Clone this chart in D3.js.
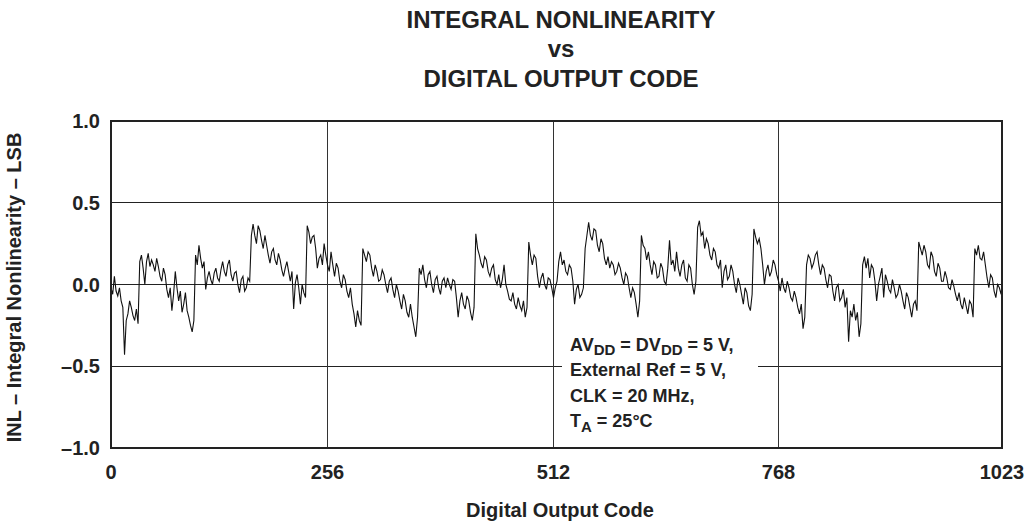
<!DOCTYPE html>
<html>
<head>
<meta charset="utf-8">
<script src="https://cdn.jsdelivr.net/npm/d3@7"></script>
<style>
  body { margin: 0; background: #fff; }
  text { font-family: "Liberation Sans", Arial, sans-serif; font-weight: bold; fill: #222; }
</style>
</head>
<body>
<script>
// output codes sampled every 2 codes, plus the last code
var codes = d3.range(0, 1024, 2).concat([1023]);

// INL in LSB (one row = 20 codes)
var inl = [
  -0.02, -0.06, 0.05, -0.04, -0.07, -0.02, -0.10, -0.14, -0.43, -0.22,
  -0.18, -0.10, -0.14, -0.19, -0.22, -0.15, -0.24, 0.14, 0.18, 0.10,
  0.00, 0.14, 0.19, 0.11, 0.15, 0.12, 0.08, 0.16, 0.11, 0.05,
  0.02, 0.10, 0.06, -0.03, -0.08, -0.02, -0.16, -0.06, 0.08, -0.02,
  -0.10, -0.04, -0.17, -0.12, -0.05, -0.16, -0.20, -0.25, -0.29, -0.22,
  0.18, 0.12, 0.24, 0.16, 0.10, 0.14, -0.03, 0.04, 0.08, 0.03,
  0.00, 0.07, 0.10, 0.04, 0.02, 0.09, 0.14, 0.08, 0.05, 0.12,
  0.15, 0.06, 0.02, 0.07, 0.08, 0.00, -0.05, 0.03, 0.05, -0.04,
  -0.02, 0.04, 0.02, 0.30, 0.37, 0.30, 0.25, 0.36, 0.33, 0.27,
  0.22, 0.30, 0.24, 0.18, 0.13, 0.20, 0.22, 0.15, 0.12, 0.19,
  0.15, 0.09, 0.05, 0.10, 0.14, 0.08, 0.02, 0.08, -0.15, 0.01,
  0.06, -0.02, -0.12, 0.00, -0.05, -0.08, 0.36, 0.32, 0.25, 0.29,
  0.30, 0.22, 0.10, 0.16, 0.18, 0.12, 0.25, 0.18, 0.12, 0.08,
  0.20, 0.12, 0.05, 0.13, 0.10, 0.02, -0.02, 0.06, 0.03, -0.04,
  -0.08, -0.02, -0.12, -0.18, -0.26, -0.16, -0.22, -0.25, 0.22, 0.18,
  0.14, 0.20, 0.18, 0.10, 0.05, 0.12, 0.08, 0.02, 0.03, 0.09,
  0.06, 0.00, -0.05, 0.02, 0.04, -0.03, -0.08, 0.00, -0.04, -0.10,
  -0.15, -0.06, -0.10, -0.17, -0.20, -0.12, -0.20, -0.26, -0.32, -0.20,
  0.10, 0.06, 0.12, 0.03, -0.02, 0.06, 0.08, 0.00, -0.05, 0.03,
  0.05, -0.02, -0.06, 0.02, 0.04, -0.02, 0.04, 0.00, -0.03, 0.03,
  0.02, -0.08, -0.20, -0.10, -0.05, -0.12, -0.15, -0.07, -0.10, -0.17,
  -0.22, -0.14, 0.31, 0.22, 0.18, 0.13, 0.10, 0.17, 0.15, 0.08,
  0.05, 0.10, 0.12, 0.03, 0.00, 0.06, -0.02, 0.03, 0.12, 0.00,
  -0.04, -0.09, -0.10, -0.05, -0.12, -0.15, -0.08, -0.13, -0.16, -0.10,
  -0.20, -0.14, 0.26, 0.18, 0.12, 0.18, 0.16, 0.05, -0.02, 0.04,
  0.07, 0.00, -0.03, 0.04, 0.03, -0.02, -0.08, -0.02, 0.02, 0.14,
  0.20, 0.12, 0.15, 0.08, 0.06, 0.12, 0.10, 0.02, -0.12, -0.03,
  0.00, -0.08, -0.06, -0.02, 0.22, 0.30, 0.38, 0.30, 0.27, 0.34,
  0.33, 0.24, 0.20, 0.28, 0.25, 0.16, 0.12, 0.17, 0.10, 0.14,
  0.12, 0.06, 0.08, 0.13, 0.10, 0.04, 0.00, 0.07, 0.05, -0.02,
  -0.08, -0.02, -0.05, -0.12, -0.20, -0.10, 0.30, 0.24, 0.22, 0.15,
  0.20, 0.12, 0.06, 0.14, 0.12, 0.04, 0.05, 0.13, 0.10, 0.02,
  0.00, 0.10, 0.27, 0.12, 0.15, 0.08, 0.20, 0.10, 0.05, 0.12,
  0.15, 0.04, 0.02, 0.12, 0.10, 0.00, -0.06, 0.02, 0.35, 0.39,
  0.30, 0.32, 0.22, 0.28, 0.25, 0.18, 0.15, 0.22, 0.20, 0.12,
  0.10, 0.15, -0.02, 0.08, 0.12, 0.03, 0.05, 0.12, 0.08, 0.00,
  -0.05, 0.04, 0.00, -0.06, -0.12, -0.02, -0.05, -0.13, -0.16, -0.06,
  0.34, 0.29, 0.25, 0.28, 0.22, 0.12, 0.00, 0.08, 0.12, 0.05,
  0.08, 0.15, 0.12, 0.06, 0.02, -0.04, 0.04, -0.02, -0.05, 0.02,
  -0.02, -0.08, -0.10, -0.04, -0.08, -0.14, -0.18, -0.12, -0.27, -0.20,
  0.12, 0.18, 0.16, 0.10, 0.13, 0.18, 0.20, 0.12, 0.06, 0.12,
  0.10, 0.03, -0.02, 0.06, 0.05, -0.04, -0.10, -0.02, 0.00, -0.10,
  -0.08, -0.03, -0.14, -0.08, -0.35, -0.16, -0.20, -0.12, -0.22, -0.17,
  -0.32, -0.24, 0.12, 0.17, 0.10, 0.16, 0.04, 0.12, 0.10, 0.02,
  -0.10, 0.00, 0.05, 0.10, -0.08, 0.06, 0.02, -0.03, -0.05, 0.03,
  -0.02, -0.08, -0.06, 0.00, -0.04, -0.10, -0.15, -0.05, -0.08, -0.14,
  -0.20, -0.12, -0.10, -0.16, 0.26, 0.22, 0.18, 0.24, 0.20, 0.12,
  0.10, 0.20, 0.17, 0.08, 0.05, 0.13, 0.10, 0.02, 0.02, 0.08,
  0.04, -0.02, -0.03, 0.03, -0.01, -0.06, -0.10, -0.05, -0.12, -0.15,
  -0.08, -0.13, -0.18, -0.10, -0.12, -0.20, 0.22, 0.18, 0.24, 0.16,
  0.15, 0.20, 0.12, 0.04, -0.02, 0.06, 0.04, -0.04, -0.08, 0.00,
  -0.02, -0.06, 0.00
];

var xTicks = [0, 256, 512, 768, 1023];
var yTicks = [-1.0, -0.5, 0.0, 0.5, 1.0];
var yTickLabels = ["\u20131.0", "\u20130.5", "0.0", "0.5", "1.0"];
var titleLines = ["INTEGRAL NONLINEARITY", "vs", "DIGITAL OUTPUT CODE"];

var width = 1027,
    height = 524;

var svg = d3.select("body")
    .append("svg")
    .attr("width", width)
    .attr("height", height);

// grid columns in the original are not evenly spaced, so map each tick
var x = d3.scaleLinear()
    .domain(xTicks)
    .range([111, 327.5, 553.5, 778.5, 1002]);

var y = d3.scaleLinear()
    .domain([-1, 1])
    .range([448, 121]);

//title
svg.selectAll(".title")
    .data(titleLines)
    .enter()
    .append("text")
    .attr("class", "title")
    .attr("x", 561)
    .attr("y", function(d, i){ return [27.5, 57, 87][i]; })
    .attr("text-anchor", "middle")
    .style("font-size", "24px")
    .text(function(d){ return d; });

//horizontal grid lines
svg.selectAll(".hgrid")
    .data(yTicks.slice(1, 4))
    .enter()
    .append("line")
    .attr("class", "hgrid")
    .attr("x1", x(0))
    .attr("x2", x(1023))
    .attr("y1", function(d){ return Math.floor(y(d)) + 0.5; })
    .attr("y2", function(d){ return Math.floor(y(d)) + 0.5; })
    .attr("stroke", "#222")
    .attr("stroke-width", 1);

//vertical grid lines
svg.selectAll(".vgrid")
    .data(xTicks.slice(1, 4))
    .enter()
    .append("line")
    .attr("class", "vgrid")
    .attr("x1", function(d){ return x(d); })
    .attr("x2", function(d){ return x(d); })
    .attr("y1", y(1))
    .attr("y2", y(-1))
    .attr("stroke", "#333")
    .attr("stroke-width", 1);

//the data line
var line = d3.line()
    .x(function(d, i){ return x(codes[i]); })
    .y(function(d){ return y(d); });

svg.append("path")
    .datum(inl)
    .attr("d", line)
    .attr("fill", "none")
    .attr("stroke", "#111")
    .attr("stroke-width", 1.1)
    .attr("stroke-linejoin", "miter");

//note box (blanks out the grid behind it)
svg.append("rect")
    .attr("x", 562)
    .attr("y", 330)
    .attr("width", 196)
    .attr("height", 116)
    .attr("fill", "#fff");

var note = svg.append("text")
    .attr("x", 570)
    .attr("y", 350.5)
    .style("font-size", "18px");

note.append("tspan").text("AV");
note.append("tspan").attr("dy", 4.5).style("font-size", "15px").text("DD");
note.append("tspan").attr("dy", -4.5).text(" = DV");
note.append("tspan").attr("dy", 4.5).style("font-size", "15px").text("DD");
note.append("tspan").attr("dy", -4.5).text(" = 5 V,");

svg.append("text").attr("x", 570).attr("y", 376)
    .style("font-size", "18px").text("External Ref = 5 V,");
svg.append("text").attr("x", 570).attr("y", 401.5)
    .style("font-size", "18px").text("CLK = 20 MHz,");

var ta = svg.append("text")
    .attr("x", 570)
    .attr("y", 427)
    .style("font-size", "18px");
ta.append("tspan").text("T");
ta.append("tspan").attr("dy", 4.5).style("font-size", "15px").text("A");
ta.append("tspan").attr("dy", -4.5).text(" = 25\u00b0C");

//plot frame
svg.append("rect")
    .attr("x", x(0))
    .attr("y", y(1))
    .attr("width", x(1023) - x(0))
    .attr("height", y(-1) - y(1))
    .attr("fill", "none")
    .attr("stroke", "#222")
    .attr("stroke-width", 2);

//tick labels
svg.selectAll(".xlabel")
    .data(xTicks)
    .enter()
    .append("text")
    .attr("class", "xlabel")
    .attr("x", function(d){ return x(d); })
    .attr("y", 479)
    .attr("text-anchor", "middle")
    .style("font-size", "20px")
    .text(function(d){ return d; });

svg.selectAll(".ylabel")
    .data(yTicks)
    .enter()
    .append("text")
    .attr("class", "ylabel")
    .attr("x", 100)
    .attr("y", function(d){ return y(d); })
    .attr("dy", "0.36em")
    .attr("text-anchor", "end")
    .style("font-size", "20px")
    .text(function(d, i){ return yTickLabels[i]; });

//axis titles
svg.append("text")
    .attr("x", 560)
    .attr("y", 517)
    .attr("text-anchor", "middle")
    .style("font-size", "20px")
    .text("Digital Output Code");

svg.append("text")
    .attr("transform", "translate(21,287.5) rotate(-90)")
    .attr("text-anchor", "middle")
    .style("font-size", "20px")
    .text("INL \u2013 Integral Nonlinearity \u2013 LSB");
</script>
</body>
</html>
